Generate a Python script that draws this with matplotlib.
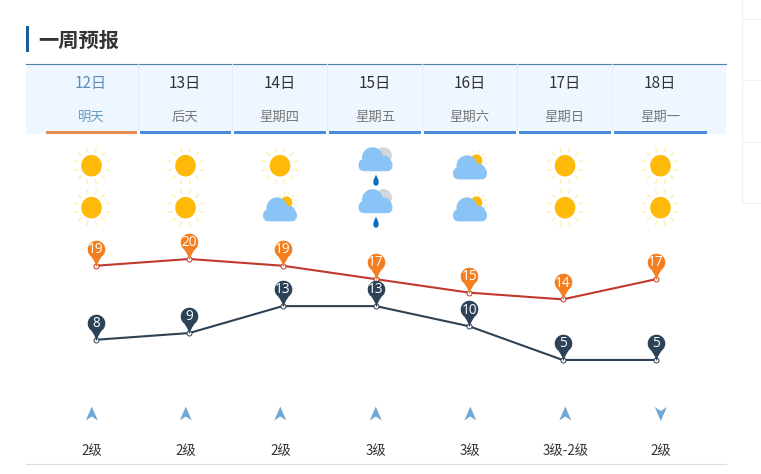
import matplotlib
matplotlib.use("Agg")
import matplotlib.pyplot as plt
import numpy as np
from matplotlib.patches import Circle, Ellipse, FancyBboxPatch, Polygon, Rectangle
from matplotlib.path import Path

plt.rcParams['font.family'] = ['Noto Sans CJK SC', 'DejaVu Sans']

dates = ['12日', '13日', '14日', '15日', '16日', '17日', '18日']
weekdays = ['明天', '后天', '星期四', '星期五', '星期六', '星期日', '星期一']
icons_day = ['sun', 'sun', 'sun', 'rain', 'partly', 'sun', 'sun']
icons_night = ['sun', 'sun', 'partly', 'rain', 'partly', 'sun', 'sun']
temp_high = [19, 20, 19, 17, 15, 14, 17]
temp_low = [8, 9, 13, 13, 10, 5, 5]
wind_up = [True, True, True, True, True, True, False]
wind_labels = ['2级', '2级', '2级', '3级', '3级', '3级-2级', '2级']

W, H = 761, 474
col_x = [91, 185, 279.5, 375, 469.5, 564.5, 660]
col_edges = [46, 140, 234, 329, 424, 519, 614, 710]

fig = plt.figure(figsize=(W / 100, H / 100), dpi=100)
ax = fig.add_axes([0, 0, 1, 1])
ax.set_xlim(0, W)
ax.set_ylim(H, 0)
ax.axis('off')


def sun(cx, cy, r=10.8, ray0=14.5, ray1=18.5, lw=1.0, z=3):
    for a in np.deg2rad(np.arange(15, 360, 30)):
        ax.plot([cx + ray0 * np.cos(a), cx + ray1 * np.cos(a)],
                [cy + ray0 * np.sin(a), cy + ray1 * np.sin(a)],
                color='#ffeeb0', lw=lw, zorder=z, solid_capstyle='round')
    ax.add_patch(Ellipse((cx, cy), 2 * r - 1, 2 * r, color='#ffb908', lw=0, zorder=z))


def cloud(cx, bottom, color='#8ac3f5', z=5):
    ax.add_patch(FancyBboxPatch((cx - 17, bottom - 12), 34, 12, boxstyle='round,pad=0,rounding_size=6',
                                color=color, lw=0, zorder=z))
    ax.add_patch(Circle((cx - 3, bottom - 13.5), 10.5, color=color, lw=0, zorder=z))
    ax.add_patch(Circle((cx + 9, bottom - 9), 6.5, color=color, lw=0, zorder=z))


def drop(cx, top):
    t = np.linspace(0, 2 * np.pi, 40)
    ax.add_patch(Polygon(np.c_[cx + 3.6 * np.sin(t) * np.sin(t / 2) ** 1.2,
                               top + 5.5 - 5.5 * np.cos(t)],
                         closed=True, color='#0a6fc2', lw=0, zorder=5))


def icon(kind, cx, cy):
    if kind == 'sun':
        sun(cx, cy)
    elif kind == 'partly':
        sun(cx + 6.5, cy - 5, r=6.3, ray0=8.5, ray1=11, lw=0.7)
        cloud(cx, cy + 13.7)
    else:
        ax.add_patch(Circle((cx + 8, cy - 10), 8.5, color='#d3d7db', lw=0, zorder=4))
        cloud(cx, cy + 5.5)
        drop(cx + 0.5, cy + 9)


# header
ax.add_patch(Rectangle((26, 26), 3, 26, color='#1a5c9e', lw=0))
ax.text(38.5, 40.2, '一周预报', fontsize=14.6, fontweight='bold', color='#333333', va='center', ha='left')
ax.add_patch(Rectangle((26, 64), 700, 70, color='#eef7ff', lw=0, zorder=1))
ax.plot([26, 726], [63.5, 63.5], color='#4f82a8', lw=0.8, zorder=2)
for x in col_edges[1:-1]:
    ax.plot([x - 2.5, x - 2.5], [64, 131], color='#e4edf6', lw=0.7, zorder=2)
    ax.add_patch(Rectangle((x - 3, 131), 3, 3, color='white', lw=0, zorder=2))

for i, x in enumerate(col_x):
    first = i == 0
    ax.text(x, 83, dates[i], fontsize=11, color='#5b8db8' if first else '#333333',
            ha='center', va='center', zorder=3)
    ax.text(x, 116.5, weekdays[i], fontsize=9.6, color='#6b9ac2' if first else '#777777',
            ha='center', va='center', zorder=3)
    ax.add_patch(Rectangle((col_edges[i], 131), col_edges[i + 1] - col_edges[i] - 3, 3,
                           color='#e08c4c' if first else '#4a8be2', lw=0, zorder=3))
    icon(icons_day[i], x + 0.5, 165.7)
    icon(icons_night[i], x + 0.5, 207.7)

# wind
for i, x in enumerate(col_x):
    cx = x + 0.8
    if wind_up[i]:
        pts = [(cx, 406.5), (cx + 6, 420.5), (cx, 416.5), (cx - 6, 420.5)]
    else:
        pts = [(cx, 421), (cx + 6, 407), (cx, 411), (cx - 6, 407)]
    ax.add_patch(Polygon(pts, closed=True, color='#6fa8d6', lw=0, zorder=3))
    ax.text(cx, 451.5, wind_labels[i], fontsize=9.6, color='#333333', ha='center', va='center')

# page furniture
ax.plot([26, 726], [463.5, 463.5], color='#dddddd', lw=0.8)
ax.plot([741.5, 741.5], [0, 203], color='#f0f1f3', lw=0.8)
for y in [19, 80, 142, 203]:
    ax.plot([741.5, 761], [y, y], color='#f0f1f3', lw=0.8)

# temperature lines
px_x0, px_dx = 96.0, 93.33
px_y20, px_dy = 259.0, 6.73
chart = fig.add_axes([0, 0, 1, 1], zorder=5)
chart.patch.set_alpha(0)
chart.axis('off')
chart.set_xlim((0 - px_x0) / px_dx, (W - px_x0) / px_dx)
chart.set_ylim(20 - (H - px_y20) / px_dy, 20 + px_y20 / px_dy)

# map pin: round head on a concave tail
theta = np.deg2rad(np.arange(-55, 236, 5))
head = np.c_[8.8 * np.cos(theta), 17 + 8.8 * np.sin(theta)]
tail_r = [[0.4, 0], [1.2, 3], [2.7, 6], [4.6, 9]]
tail_l = [[-x, y] for x, y in tail_r[::-1]]
pin_marker = Path(np.vstack([tail_r, head, tail_l, tail_r[:1]]))
pin_size = 2 * (17 + 8.8) * 0.72
days = np.arange(len(dates))

for temps, line_c, pin_c in [(temp_high, '#c0392b', '#f47f20'), (temp_low, '#2f4153', '#2c4257')]:
    chart.plot(days, temps, color=line_c, lw=1.5, zorder=2)
    chart.plot(days, temps, ls='none', marker='o', ms=3.6, mfc='white', mec=line_c, mew=0.7, zorder=3)
    chart.plot(days, temps, ls='none', marker=pin_marker, ms=pin_size, mfc=pin_c, mec='none', zorder=4)
    for d, t in zip(days, temps):
        chart.annotate(str(t), (d, t), xytext=(0, 11.7), textcoords='offset points', color='white',
                       fontsize=9.8, family='Open Sans', ha='center', va='center', zorder=5)

fig.savefig('out.png', dpi=100)
